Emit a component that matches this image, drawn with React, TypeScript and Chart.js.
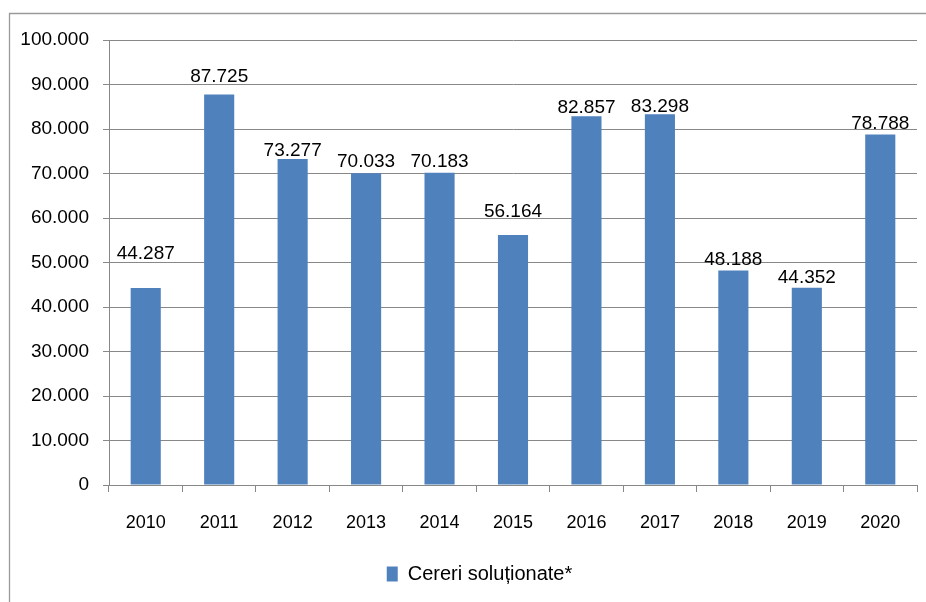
import React, { useEffect, useRef } from "react";
import { Chart, registerables } from "chart.js";

Chart.register(...registerables);

const years = ["2010", "2011", "2012", "2013", "2014", "2015", "2016", "2017", "2018", "2019", "2020"];
const solved = [44287, 87725, 73277, 70033, 70183, 56164, 82857, 83298, 48188, 44352, 78788];
const legendLabel = "Cereri soluționate*";
const yMax = 100000;
const yStep = 10000;

// pixel gap between bar top and label baseline (label placement style)
const labelGaps = [29, 13, 3, 6, 6, 18, 3, 2, 6, 5, 5];

const FONT = "'Liberation Sans', Arial, sans-serif";

function fmt(v: number): string {
  const s = Math.round(v).toString();
  return s.replace(/\B(?=(\d{3})+(?!\d))/g, ".");
}

const borderPlugin = {
  id: "outerBorder",
  beforeDraw(chart: any) {
    const ctx = chart.ctx;
    ctx.save();
    ctx.fillStyle = "#ffffff";
    ctx.fillRect(0, 0, chart.width, chart.height);
    ctx.strokeStyle = "#9a9a9a";
    ctx.lineWidth = 1.3;
    ctx.beginPath();
    ctx.moveTo(9.5, chart.height + 5);
    ctx.lineTo(9.5, 13.5);
    ctx.lineTo(chart.width + 5, 13.5);
    ctx.stroke();
    ctx.restore();
  },
};

const legendShift = {
  id: "legendShift",
  afterLayout(chart: any) {
    const lg = chart.legend;
    if (lg) {
      lg.left += 21;
      lg.right += 21;
    }
  },
};

const labelPlugin = {
  id: "barLabels",
  afterDatasetsDraw(chart: any) {
    const ctx = chart.ctx;
    const meta = chart.getDatasetMeta(0);
    ctx.save();
    ctx.font = `19px ${FONT}`;
    ctx.fillStyle = "#000000";
    ctx.textAlign = "center";
    ctx.textBaseline = "alphabetic";
    meta.data.forEach((bar: any, i: number) => {
      ctx.fillText(fmt(solved[i]), bar.x, bar.y - labelGaps[i]);
    });
    ctx.restore();
  },
};

export default function App() {
  const ref = useRef<HTMLCanvasElement | null>(null);

  useEffect(() => {
    if (!ref.current) return;
    const chart = new Chart(ref.current, {
      type: "bar",
      data: {
        labels: years,
        datasets: [
          {
            label: legendLabel,
            data: solved,
            backgroundColor: "#4F81BD",
            borderWidth: 0,
            categoryPercentage: 1,
            barPercentage: 0.41,
          },
        ],
      },
      options: {
        animation: false,
        responsive: false,
        maintainAspectRatio: false,
        layout: { padding: { top: 40, right: 9, left: 0, bottom: 8 } },
        font: { family: FONT },
        plugins: {
          tooltip: { enabled: false },
          legend: {
            display: true,
            position: "bottom",
            labels: {
              boxWidth: 11,
              boxHeight: 15,
              color: "#000",
              padding: 10,
              font: { family: FONT, size: 20 },
            },
          },
        },
        scales: {
          x: {
            grid: {
              display: true,
              drawOnChartArea: false,
              drawTicks: true,
              tickLength: 7,
              offset: true,
              color: "#888888",
            },
            border: { display: true, color: "#888888" },
            ticks: {
              color: "#000",
              padding: 20,
              font: { family: FONT, size: 18 },
              maxRotation: 0,
              autoSkip: false,
            },
            afterFit(scale: any) {
              scale.height = 69;
            },
          },
          y: {
            min: 0,
            max: yMax,
            grid: { color: "#888888", tickLength: 6, drawTicks: true },
            border: { display: true, color: "#888888" },
            ticks: {
              stepSize: yStep,
              color: "#000",
              padding: 14,
              font: { family: FONT, size: 19 },
              callback: (v: any) => fmt(Number(v)),
            },
            afterFit(scale: any) {
              scale.width = 109;
            },
          },
        },
      },
      plugins: [borderPlugin, legendShift, labelPlugin],
    });
    return () => chart.destroy();
  }, []);

  return (
    <div style={{ position: "absolute", left: 0, top: 0, width: 926, height: 602 }}>
      <canvas ref={ref} width={926} height={602} />
    </div>
  );
}
